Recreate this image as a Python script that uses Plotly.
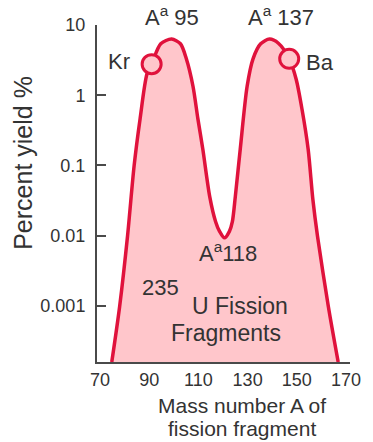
import math
import plotly.graph_objects as go

# Mass number A and percent yield
mass_a = [74.8, 78.0, 81.2, 83.9, 86.3, 89.1, 91.0, 94.7, 99.1, 102.7, 105.1, 107.8,
          109.8, 111.8, 114.6, 117.0, 118.6, 120.6, 122.6, 123.8, 125.0, 127.0, 129.8,
          132.2, 135.3, 138.9, 142.5, 146.9, 149.7, 152.1, 154.6, 156.5, 158.4, 162.8, 166.8]
yield_pct = [1.58e-4, 0.00098, 0.0098, 0.10, 0.46, 2.0, 2.77, 5.4, 6.3, 5.4, 3.3, 1.34,
             0.46, 0.17, 0.036, 0.0158, 0.0115, 0.0093, 0.0115, 0.0158, 0.036, 0.17, 1.34,
             3.3, 5.4, 6.3, 5.5, 3.3, 1.7, 0.63, 0.17, 0.033, 0.0098, 0.00098, 1.58e-4]

marker_names = ["Kr", "Ba"]
marker_a = [91.0, 146.9]
marker_y = [2.77, 3.3]

y_tick_vals = [10, 1, 0.1, 0.01, 0.001]
y_tick_text = ["10", "1", "0.1", "0.01", "0.001"]
x_tick_vals = [70, 90, 110, 130, 150, 170]
x_tick_text = ["70", "90", "110", "130", "150", "170"]

RED = "#e0123c"
FILL = "rgb(255,198,203)"
AX = "#4a4a4a"
TXT = "#333333"
FONT = "Liberation Sans, Arial, sans-serif"

fig = go.Figure()
fig.add_trace(go.Scatter(
    x=mass_a, y=yield_pct, mode="lines",
    line=dict(color=RED, width=3.5, shape="spline", smoothing=0.8),
    fill="toself", fillcolor=FILL, hoverinfo="skip", showlegend=False,
))
fig.add_trace(go.Scatter(
    x=marker_a, y=marker_y, mode="markers",
    marker=dict(size=19, color=FILL, line=dict(color=RED, width=3)),
    showlegend=False, hoverinfo="skip",
))

def lab(x, y, text, size=22):
    return dict(x=x, y=math.log10(y), text=text, showarrow=False,
                font=dict(family=FONT, size=size, color=TXT),
                xanchor="center", yanchor="middle")

def plab(x, y, text, size=22, xref="x", angle=0):
    return dict(x=x, y=y, xref=xref, yref="paper", text=text, showarrow=False,
                textangle=angle, font=dict(family=FONT, size=size, color=TXT),
                xanchor="center", yanchor="middle")

annotations = [
    plab(99.1, 1.026, "A<sup>a</sup> 95"),
    plab(143.7, 1.026, "A<sup>a</sup> 137"),
    lab(122.2, 0.0059, "A<sup>a</sup>118"),
    lab(77.8, 3.06, marker_names[0]),
    lab(159.6, 2.95, marker_names[1]),
    lab(94.6, 0.00185, "235", size=22),
    lab(126.8, 0.00098, "U Fission", size=23),
    lab(121.4, 0.00041, "Fragments", size=23),
    plab(-0.29, 0.59, "Percent yield %", size=25, xref="paper", angle=-90),
    plab(0.574, -0.128, "Mass number A of", size=21, xref="paper"),
    plab(0.574, -0.196, "fission fragment", size=21, xref="paper"),
]

fig.update_layout(
    width=373, height=442,
    margin=dict(l=97, r=18, t=25, b=80),
    paper_bgcolor="white", plot_bgcolor="white",
    font=dict(family=FONT, color=TXT),
    annotations=annotations,
    xaxis=dict(
        range=[68.8, 171.6], showgrid=False, zeroline=False,
        showline=True, linecolor=AX, linewidth=2,
        tickvals=x_tick_vals, ticktext=x_tick_text, ticks="", ticklen=0,
        tickfont=dict(size=18, color=TXT, family=FONT),
    ),
    yaxis=dict(
        type="log", range=[-3.8, 1.0], showgrid=False, zeroline=False,
        showline=True, linecolor=AX, linewidth=2,
        tickvals=y_tick_vals, ticktext=y_tick_text,
        ticks="inside", ticklen=9, tickwidth=2, tickcolor=AX,
        ticklabelstandoff=6,
        tickfont=dict(size=18, color=TXT, family=FONT),
    ),
)

fig.write_html("out.html", config={"displayModeBar": False},
               post_script="document.body.style.margin='0';")
